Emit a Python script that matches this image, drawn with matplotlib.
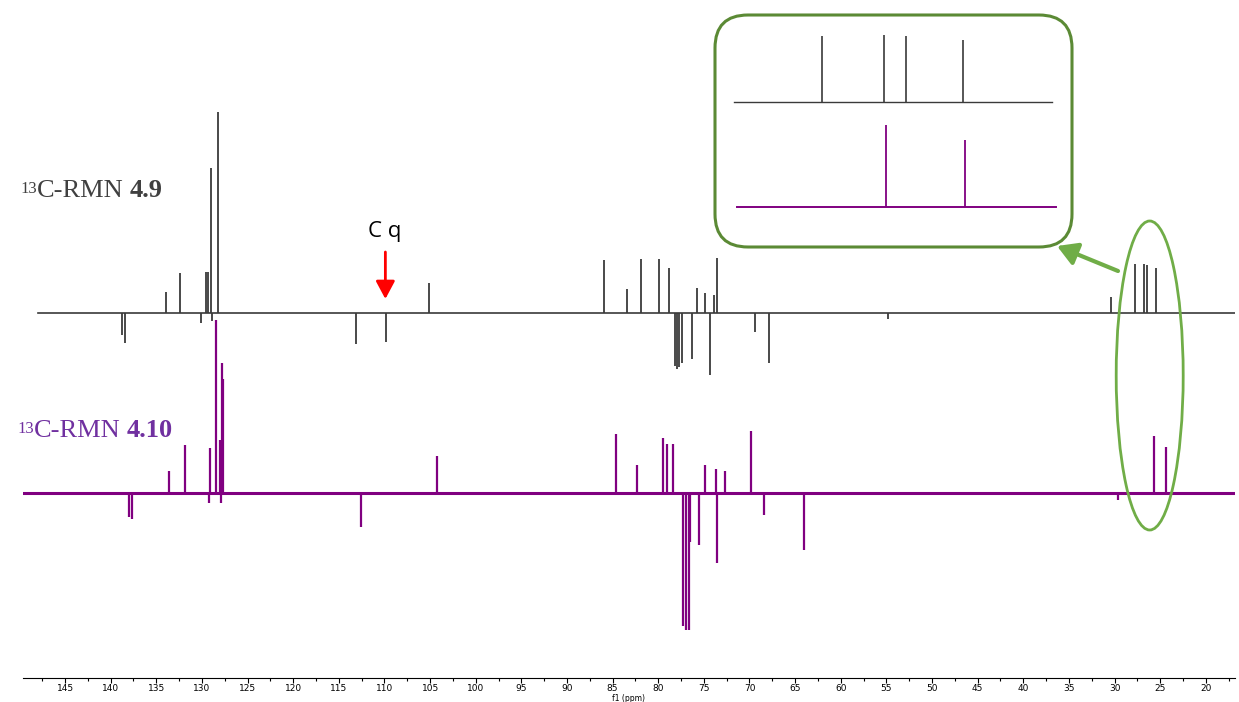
import numpy as np
import matplotlib.pyplot as plt
from matplotlib.patches import Ellipse, FancyBboxPatch
from matplotlib.ticker import MultipleLocator

# 13C spectrum of 4.9 (ppm, signed intensity)
top_ppm = [138.75, 138.43, 133.93, 132.40, 130.10, 129.55, 129.33, 129.00, 128.89, 128.23,
           113.11, 109.83, 105.11, 85.97, 83.38, 81.88, 79.91, 78.81, 78.15, 77.91, 77.69,
           77.39, 76.30, 75.72, 74.87, 74.33, 73.89, 73.59, 69.36, 67.86, 54.82,
           30.38, 27.75, 26.80, 26.40, 25.48]
top_int = [-22, -30, 21, 40, -10, 41, 41, 145, -8, 201,
           -31, -29, 30, 53, 24, 54, 54, 45, -53, -56, -54,
           -50, -46, 25, 20, -62, 18, 55, -19, -50, -6,
           16, 49, 49, 48, 45]

# 13C spectrum of 4.10
bot_ppm = [137.95, 137.66, 133.60, 131.85, 129.25, 129.11, 128.45, 128.02, 127.94, 127.80,
           127.69, 112.60, 104.24, 84.62, 82.32, 79.51, 79.04, 78.41, 77.31, 76.95,
           76.66, 76.55, 75.53, 74.90, 73.70, 73.59, 72.68, 69.83, 68.41, 64.06,
           29.61, 25.67, 24.36]
bot_int = [-24, -26, 22, 48, -10, 45, 173, 53, -10, 130,
           114, -34, 37, 59, 28, 55, 49, 49, -133, -137,
           -137, -49, -52, 28, 24, -70, 22, 62, -22, -57,
           -7, 57, 46]

top_range = [147.96, 16.4]
bot_range = [149.7, 16.6]

# zoomed region (inset)
ins_top_ppm = [28.10, 27.08, 26.73, 25.80]
ins_top_int = [66, 67, 66, 62]
ins_bot_ppm = [27.06, 25.77]
ins_bot_int = [82, 67]
ins_top_range = [29.53, 24.34]
ins_bot_range = [29.48, 24.28]

cq_ppm = 109.9

BLACK = "#3a3a3a"
PURPLE = "#800080"
top_off = 365
bot_off = 185

plt.rcParams["font.family"] = "DejaVu Sans"

fig = plt.figure(figsize=(12.39, 7.02), dpi=100)
ax = fig.add_axes([22.7 / 1239, 24 / 702, 1212.3 / 1239, 678 / 702])
ax.set_xlim(149.64, 16.8)
ax.set_ylim(0, 678)

ax.plot(top_range, [top_off, top_off], color=BLACK, lw=1.2)
ax.vlines(top_ppm, top_off, top_off + np.array(top_int), color=BLACK, lw=1.3)
ax.plot(bot_range, [bot_off, bot_off], color=PURPLE, lw=2.2)
ax.vlines(bot_ppm, bot_off, bot_off + np.array(bot_int), color=PURPLE, lw=1.6)

for s in ["left", "right", "top"]:
    ax.spines[s].set_visible(False)
ax.spines["bottom"].set_linewidth(0.8)
ax.set_yticks([])
ax.xaxis.set_major_locator(MultipleLocator(5))
ax.xaxis.set_minor_locator(MultipleLocator(2.5))
ax.tick_params(axis="x", which="major", length=3.5, width=0.8, labelsize=6.5, pad=1)
ax.tick_params(axis="x", which="minor", length=2, width=0.8)
ax.set_xlabel("f1 (ppm)", fontsize=5.5, labelpad=0.3)

# Cq annotation
ax.text(cq_ppm + 0.1, 441, "C q", family="Open Sans", fontsize=16, ha="center", va="baseline")
ax.annotate("", xy=(cq_ppm, 379), xytext=(cq_ppm, 426),
            arrowprops=dict(arrowstyle="-|>,head_length=0.9,head_width=0.48", color="red",
                            lw=2, mutation_scale=12, shrinkA=0, shrinkB=0))

# spectrum labels
def label(x, y, num, color):
    t1 = fig.text(x / 1239, 1 - y / 702, "C-RMN", family="Liberation Serif", fontsize=19,
                  color=color, va="baseline")
    ax.annotate("13", xy=(0, 1), xycoords=t1, xytext=(0, -1), textcoords="offset points",
                ha="right", va="top", family="Liberation Serif", fontsize=12, color=color)
    ax.annotate(num, xy=(1, 0), xycoords=t1, xytext=(4, 0), textcoords="offset points",
                ha="left", va="bottom", family="Liberation Serif", fontsize=19,
                fontweight="bold", color=color)

label(37, 197, "4.9", "#404040")
label(34, 437, "4.10", "#7030A0")

# highlight ellipse and inset box
fig.add_artist(Ellipse((11.497, 3.265), 0.67, 3.09, transform=fig.dpi_scale_trans,
                       fill=False, ec="#70AD47", lw=2))
fig.add_artist(FancyBboxPatch((7.15, 4.55), 3.57, 2.32,
                              boxstyle="round,pad=0,rounding_size=0.33",
                              transform=fig.dpi_scale_trans, fill=False, ec="#5B8A35", lw=2.2))
ax.annotate("", xy=(1057, 456), xycoords="figure pixels", xytext=(1118, 431),
            textcoords="figure pixels",
            arrowprops=dict(arrowstyle="-|>,head_length=0.6,head_width=0.35", color="#70AD47",
                            lw=3, mutation_scale=20, shrinkA=0, shrinkB=0))

ins = fig.add_axes([715 / 1239, 455 / 702, 357 / 1239, 232 / 702])
ins.set_xlim(29.84, 24.02)
ins.set_ylim(0, 232)
ins.axis("off")
ins.plot(ins_top_range, [144.7, 144.7], color=BLACK, lw=1)
ins.vlines(ins_top_ppm, 144.7, 144.7 + np.array(ins_top_int), color=BLACK, lw=1.2)
ins.plot(ins_bot_range, [39.7, 39.7], color=PURPLE, lw=1.4)
ins.vlines(ins_bot_ppm, 39.7, 39.7 + np.array(ins_bot_int), color=PURPLE, lw=1.3)

fig.savefig("out.png", dpi=100)
